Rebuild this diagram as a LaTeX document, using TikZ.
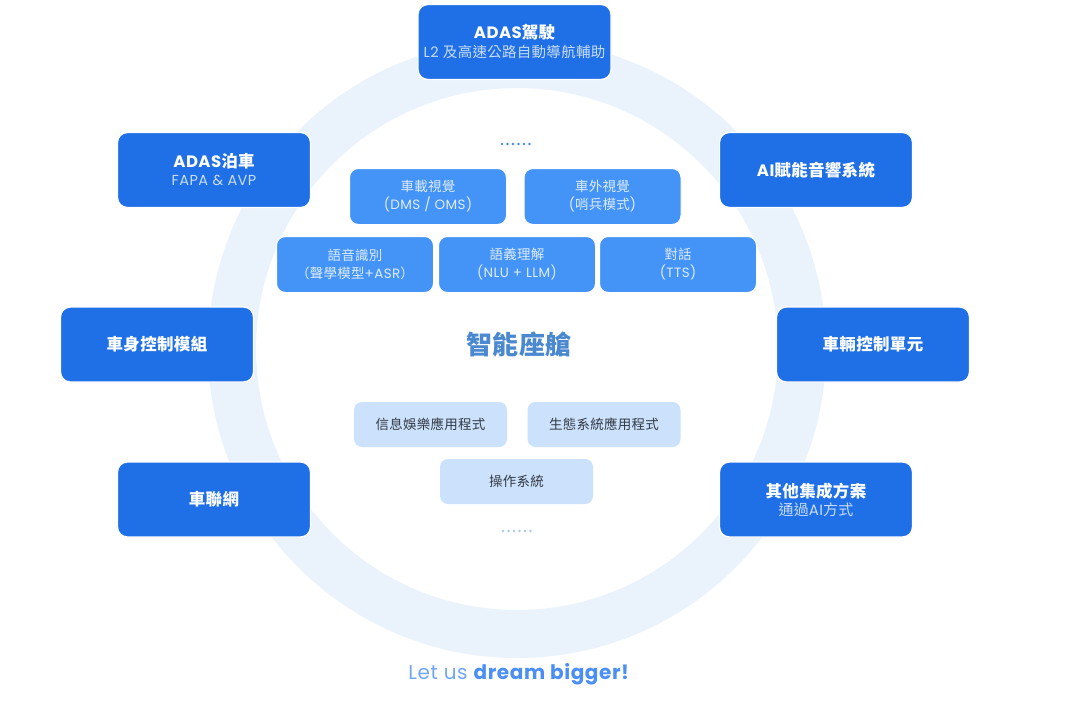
\documentclass[tikz,border=0pt]{standalone}
\usepackage{fontspec}
\setmainfont{Poppins}[LetterSpace=3]
\newfontfamily\cjk{Noto Sans CJK TC}[LetterSpace=2]
\definecolor{ringc}{HTML}{EAF2FB}
\definecolor{dkblue}{HTML}{1F6FE6}
\definecolor{mdblue}{HTML}{4494F8}
\definecolor{ltblue}{HTML}{CCE2FC}
\definecolor{midtxt}{HTML}{DDEBFF}
\definecolor{subtxt}{HTML}{C8DCFA}
\definecolor{darktxt}{HTML}{333A45}
\definecolor{centertxt}{HTML}{4A88CF}
\definecolor{slogan}{HTML}{4B8FF5}
\definecolor{sloganlt}{HTML}{6FA6F6}
\definecolor{topdots}{HTML}{3E8BF0}
\definecolor{botdots}{HTML}{A8C8F0}
\newcommand{\fs}[2]{\fontsize{#1}{#2}\selectfont}
\tikzset{
  outerbox/.style={draw=white, line width=1.3pt, fill=dkblue, rounded corners=10pt,
    minimum width=193pt, minimum height=75pt, text=white, align=center, inner sep=0pt},
  midbox/.style={draw=white, line width=1pt, fill=mdblue, rounded corners=9pt,
    minimum width=157pt, minimum height=56pt, text=midtxt, align=center, inner sep=0pt},
  lightbox/.style={fill=ltblue, rounded corners=8pt,
    minimum width=153pt, minimum height=45pt, text=darktxt, align=center, inner sep=0pt},
  dot1/.style={fill=topdots},
  dot2/.style={fill=botdots},
}
\begin{document}
\begin{tikzpicture}[x=1pt,y=-1pt]
\useasboundingbox (0,0) rectangle (1066,701);
\fill[white] (0,0) rectangle (1066,701);
% ring
\draw[ringc, line width=48pt] (517,349) circle[radius=285pt];
% outer boxes
\node[outerbox, font=\fs{14.5}{19}] (adasd) at (514.5,42) {{\fs{16.5}{19}\bfseries ADAS{\cjk 駕駛}}\\{\color{subtxt}L2 {\cjk 及高速公路自動導航輔助}}};
\node[outerbox, font=\fs{14.5}{18}] (adasp) at (214,170) {{\fs{16.5}{18}\bfseries ADAS{\cjk 泊車}}\\{\color{subtxt}FAPA \& AVP}};
\node[outerbox] (audio) at (816,170) {\fs{16.5}{19}\bfseries AI{\cjk 賦能音響系統}};
\node[outerbox] (body) at (157,344.5) {\fs{16.5}{19}\cjk\bfseries 車身控制模組};
\node[outerbox] (vcu) at (873,344.5) {\fs{16.5}{19}\cjk\bfseries 車輛控制單元};
\node[outerbox] (iov) at (214,499.5) {\fs{16.5}{19}\cjk\bfseries 車聯網};
\node[outerbox, font=\fs{15}{18}] (other) at (816,499.5) {{\fs{16.5}{18}\cjk\bfseries 其他集成方案}\\{\color{subtxt}{\cjk 通過}AI{\cjk 方式}}};
% top dots
\foreach \i in {0,...,5} \fill[dot1] (502+5.5*\i,144) circle[radius=1.4pt];
% mid boxes
\node[midbox, font=\fs{13.5}{18}] (inveh) at (428,196.5) {{\cjk 車載視覺}\\(DMS / OMS)};
\node[midbox, font=\fs{13.5}{18}] (outveh) at (602.5,196.5) {{\cjk 車外視覺}\\({\cjk 哨兵模式})};
\node[midbox, font=\fs{13.5}{18}] (asr) at (355,264.5) {{\cjk 語音識別}\\{\cjk （聲學模型}+ASR{\cjk ）}};
\node[midbox, font=\fs{13.5}{18}] (nlu) at (517,264.5) {{\cjk 語義理解}\\(NLU + LLM)};
\node[midbox, font=\fs{13.5}{18}] (tts) at (678,264.5) {{\cjk 對話}\\(TTS)};
% center title
\node[text=centertxt, font=\fs{26}{28}\cjk\bfseries] (cockpit) at (519,344) {智能座艙};
% light boxes
\node[lightbox] (info) at (430.5,424.5) {\fs{13.5}{16}\cjk 信息娛樂應用程式};
\node[lightbox] (eco) at (604,424.5) {\fs{13.5}{16}\cjk 生態系統應用程式};
\node[lightbox] (os) at (516.5,481.5) {\fs{13.5}{16}\cjk 操作系統};
% bottom dots
\foreach \i in {0,...,5} \fill[dot2] (503+5.5*\i,531) circle[radius=1.3pt];
% slogan
\node[text=slogan, font=\fs{20}{22}] (slog) at (519,674) {{\color{sloganlt}Let us} \textbf{dream bigger!}};
\end{tikzpicture}
\end{document}
